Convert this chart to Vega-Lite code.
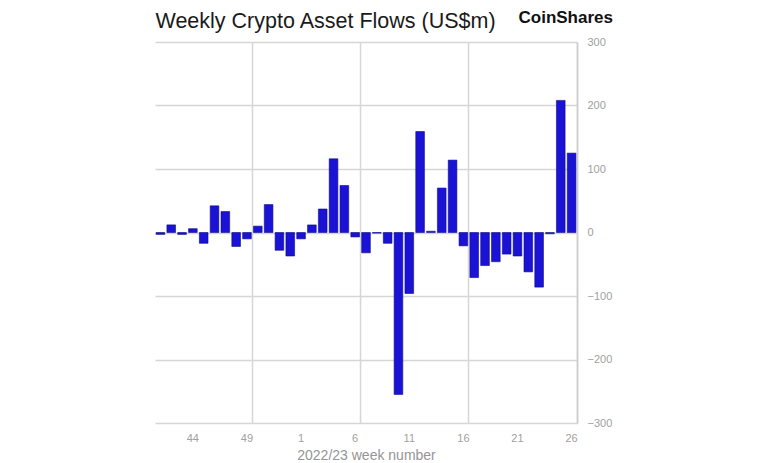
{
  "$schema": "https://vega.github.io/schema/vega-lite/v6.json",
  "width": 422,
  "height": 381,
  "autosize": {"type": "none"},
  "padding": {"left": 155, "top": 42, "right": 191, "bottom": 40},
  "background": "white",
  "config": {"view": {"stroke": null}, "font": "Liberation Sans"},
  "data": {
    "values": [
      {"week": "41", "flow": -3},
      {"week": "42", "flow": 12},
      {"week": "43", "flow": -3},
      {"week": "44", "flow": 6},
      {"week": "45", "flow": -17},
      {"week": "46", "flow": 42},
      {"week": "47", "flow": 33},
      {"week": "48", "flow": -22},
      {"week": "49", "flow": -10},
      {"week": "50", "flow": 10},
      {"week": "51", "flow": 44},
      {"week": "52", "flow": -28},
      {"week": "53", "flow": -37},
      {"week": "1", "flow": -10},
      {"week": "2", "flow": 12},
      {"week": "3", "flow": 37},
      {"week": "4", "flow": 116},
      {"week": "5", "flow": 74},
      {"week": "6", "flow": -7},
      {"week": "7", "flow": -32},
      {"week": "8", "flow": -1},
      {"week": "9", "flow": -17},
      {"week": "10", "flow": -255},
      {"week": "11", "flow": -96},
      {"week": "12", "flow": 159},
      {"week": "13", "flow": 2},
      {"week": "14", "flow": 70},
      {"week": "15", "flow": 114},
      {"week": "16", "flow": -21},
      {"week": "17", "flow": -71},
      {"week": "18", "flow": -52},
      {"week": "19", "flow": -46},
      {"week": "20", "flow": -34},
      {"week": "21", "flow": -37},
      {"week": "22", "flow": -62},
      {"week": "23", "flow": -86},
      {"week": "24", "flow": -2},
      {"week": "25", "flow": 208},
      {"week": "26", "flow": 125}
    ]
  },
  "encoding": {
    "y": {
      "field": "flow",
      "type": "quantitative",
      "scale": {"domain": [-300, 300], "nice": false},
      "axis": {
        "orient": "right",
        "values": [-300, -200, -100, 0, 100, 200, 300],
        "grid": true,
        "gridColor": "#d6d6d6",
        "gridWidth": 1.5,
        "domain": true,
        "domainColor": "#cccccc",
        "domainWidth": 1.5,
        "ticks": false,
        "labelColor": "#a0a0a0",
        "labelFontSize": 11,
        "labelPadding": 10,
        "labelAlign": "left",
        "labelBaseline": "middle",
        "labelFlush": false,
        "labelOverlap": false,
        "title": "CoinShares",
        "titleAngle": 0,
        "titleX": -59,
        "titleY": -20,
        "titleAlign": "left",
        "titleBaseline": "alphabetic",
        "titleFontSize": 17,
        "titleFontWeight": "bold",
        "titleColor": "#111111"
      }
    }
  },
  "layer": [
    {
      "mark": {"type": "bar", "opacity": 0},
      "encoding": {
        "x": {
          "field": "week",
          "type": "ordinal",
          "sort": null,
          "scale": {"paddingInner": 0.2, "paddingOuter": 0.1},
          "axis": {
            "orient": "top",
            "values": ["49", "6", "16", "26"],
            "bandPosition": 1.125,
            "grid": true,
            "gridColor": "#d6d6d6",
            "gridWidth": 1.5,
            "labels": false,
            "ticks": false,
            "domain": false,
            "title": "Weekly Crypto Asset Flows (US$m)",
            "titleX": 0,
            "titleY": -15,
            "titleAlign": "left",
            "titleAnchor": "start",
            "titleBaseline": "alphabetic",
            "titleFontSize": 21.5,
            "titleFontWeight": "normal",
            "titleColor": "#1a1a1a"
          }
        }
      }
    },
    {
      "mark": {"type": "bar", "color": "#1a12d4", "stroke": "#0d0c8c", "strokeWidth": 0.6},
      "encoding": {
        "x": {
          "field": "week",
          "type": "ordinal",
          "sort": null,
          "scale": {"paddingInner": 0.2, "paddingOuter": 0.1},
          "axis": {
            "orient": "bottom",
            "values": ["44", "49", "1", "6", "11", "16", "21", "26"],
            "labelAngle": 0,
            "grid": false,
            "ticks": false,
            "domain": false,
            "labelColor": "#a0a0a0",
            "labelFontSize": 11,
            "labelPadding": 9,
            "title": "2022/23 week number",
            "titleColor": "#959595",
            "titleFontSize": 14,
            "titleFontWeight": "normal",
            "titlePadding": 5
          }
        }
      }
    }
  ],
  "resolve": {"axis": {"x": "independent"}}
}
